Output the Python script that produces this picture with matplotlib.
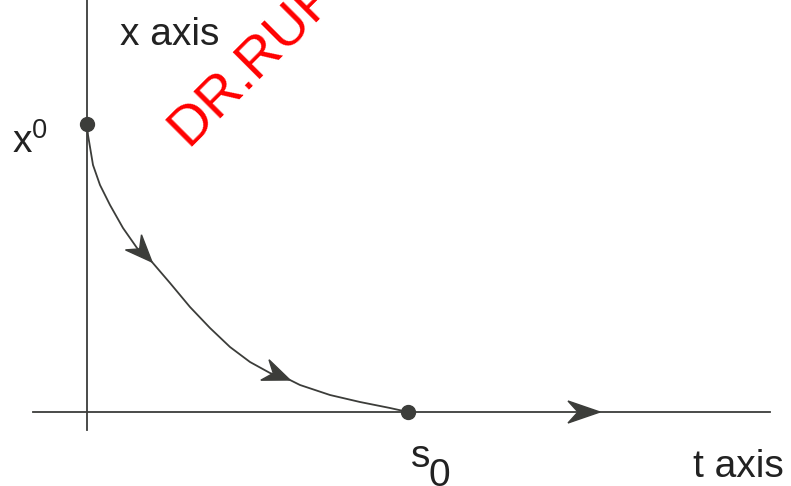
import numpy as np
import matplotlib.pyplot as plt
from matplotlib.patches import Polygon

plt.rcParams['font.family'] = ['Liberation Sans', 'DejaVu Sans']
plt.rcParams['mathtext.default'] = 'regular'

# trajectory from x^0 (on the x axis) down to s0 (on the t axis)
t_curve = [0, 1, 6, 13, 23, 36, 50, 65, 83, 103, 123, 143, 163, 183, 203, 213, 243, 273, 303, 321]
x_curve = [288, 277, 247, 227, 207, 184, 164, 150, 129, 105, 84, 65, 50, 39, 32, 27, 17, 10, 4, 0]
arrow_idx = [7, 14]          # arrowheads along the trajectory
points = [(0, 288), (321, 0)]  # x^0 and s0
t_axis_arrow = 513

col = '#3c3d3a'

fig = plt.figure(figsize=(7.91, 4.86), dpi=100)
ax = fig.add_axes([0, 0, 1, 1])
ax.set_xlim(-87, 704)
ax.set_ylim(-74, 412)
ax.axis('off')


def arrowhead(tip, ang, L=27, W=11, N=9):
    c, s = np.cos(ang), np.sin(ang)
    pts = np.array([[0, 0], [-L, W], [-L + N, 0], [-L, -W]])
    rot = pts @ np.array([[c, s], [-s, c]])
    ax.add_patch(Polygon(rot + tip, closed=True, color=col, zorder=4))


# axes
ax.plot([0, 0], [-18, 412], color=col, lw=1.3)
ax.plot([-54, 683], [0, 0], color=col, lw=1.3)
arrowhead((t_axis_arrow, 0), 0.0, L=32, W=11, N=10)

# trajectory
ax.plot(t_curve, x_curve, color=col, lw=1.3, solid_joinstyle='round')
for i in arrow_idx:
    d = np.array([t_curve[i + 1] - t_curve[i - 1], x_curve[i + 1] - x_curve[i - 1]])
    arrowhead((t_curve[i], x_curve[i]), np.arctan2(d[1], d[0]))

ax.plot(*zip(*points), 'o', color=col, ms=10, ls='none', zorder=5)

# labels
ax.text(33, 367, 'x axis', fontsize=28, color='#222222')
ax.text(-75, 259, 'x$^0$', fontsize=28, color='#222222')
ax.text(324, -55, 's', fontsize=28, color='#222222')
ax.text(342, -74, '0', fontsize=28, color='#222222')
ax.text(606, -65, 't axis', fontsize=28, color='#222222')

# watermark
ax.text(103, 262, 'DR.RUPNATHJI( DR.RUPAK NATH )', fontsize=40, color='red',
        rotation=45, rotation_mode='anchor', ha='left', va='baseline', zorder=6)

fig.savefig('out.png', dpi=100)
